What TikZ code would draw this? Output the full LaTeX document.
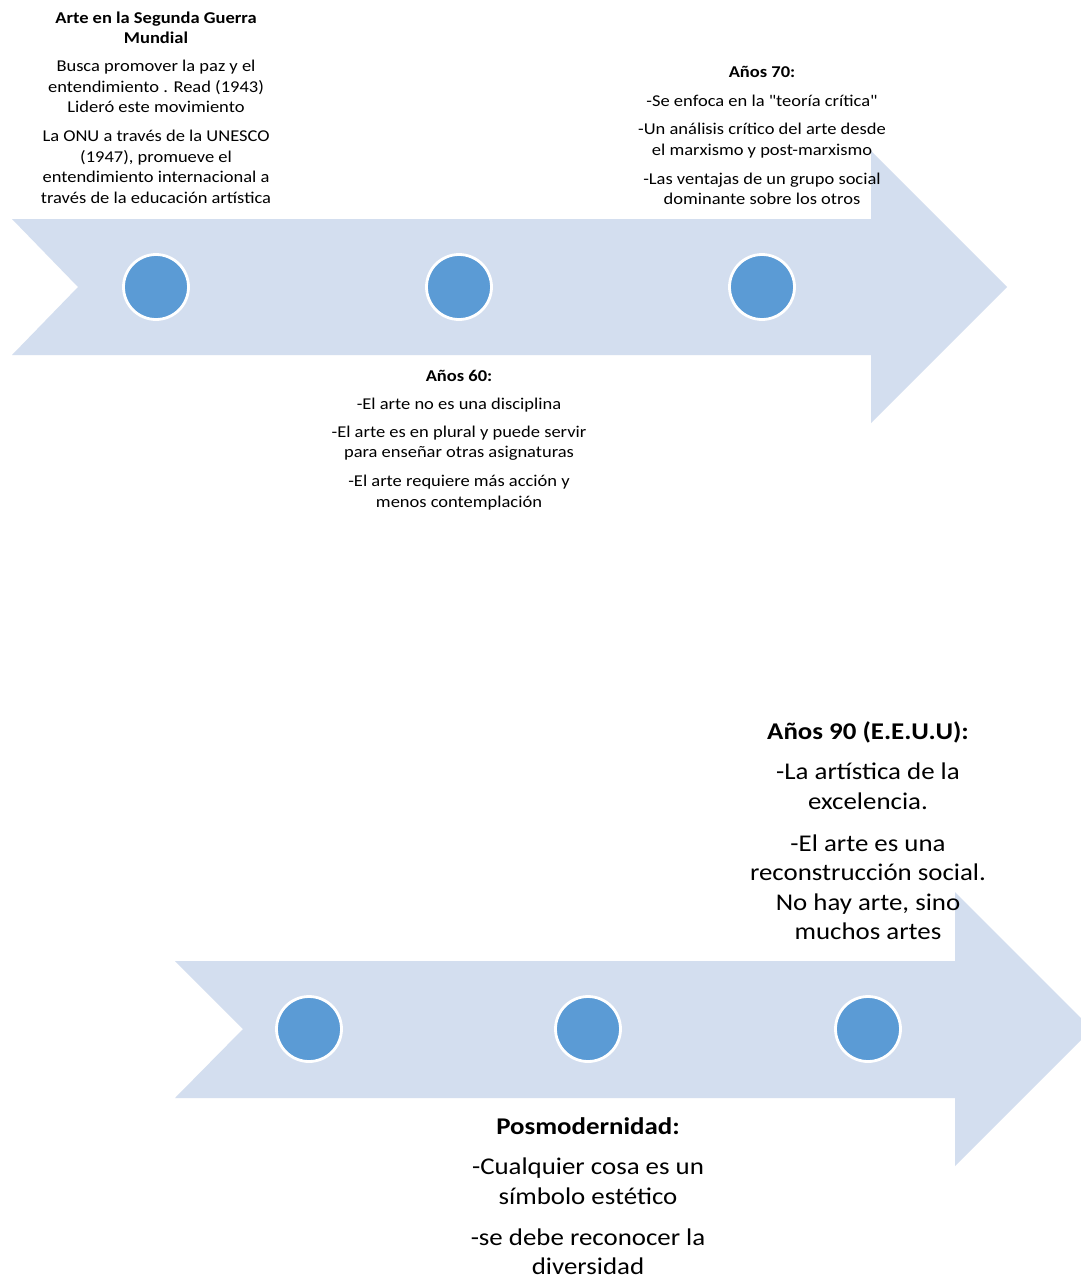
\documentclass[tikz,border=0pt]{standalone}
\usepackage{fontspec}
\setmainfont{Carlito}[FakeStretch=1.12,Ligatures=TeXOff]
\definecolor{arrowfill}{HTML}{D3DEEF}
\definecolor{dotfill}{HTML}{5B9BD5}
\begin{document}
\begin{tikzpicture}[x=1pt,y=-1pt,
  dot/.style={circle,fill=dotfill,draw=white,line width=2.8pt,minimum size=65pt,inner sep=0pt},
  small/.style={align=center,anchor=north,inner sep=0pt,text=black,font=\fontsize{16.5}{20.5}\selectfont},
  large/.style={align=center,anchor=north,inner sep=0pt,text=black,font=\fontsize{24}{29.5}\selectfont}]
\useasboundingbox[fill=white] (0,0) rectangle (1081,1278);
% top arrow
\fill[arrowfill] (12,219) -- (871,219) -- (871,151) -- (1007,287) -- (871,423) -- (871,355) -- (12,355) -- (78,287) -- cycle;
% bottom arrow
\begin{scope}
\clip (0,0) rectangle (1081,1278);
\fill[arrowfill] (175,961) -- (955,961) -- (955,892) -- (1092,1029) -- (955,1166) -- (955,1098) -- (175,1098) -- (243,1029) -- cycle;
\end{scope}
% dots
\node[dot] (d1) at (156,287) {};
\node[dot] (d2) at (459,287) {};
\node[dot] (d3) at (762,287) {};
\node[dot] (d4) at (309,1029) {};
\node[dot] (d5) at (588,1029) {};
\node[dot] (d6) at (868,1029) {};
% texts
\node[small] (t1) at (156,8.7) {\strut\textbf{Arte en la Segunda Guerra}\\\textbf{Mundial}\\[7.5pt]
Busca promover la paz y el\\entendimiento . Read (1943)\\Lideró este movimiento\\[8.5pt]
La ONU a través de la UNESCO\\(1947), promueve el\\entendimiento internacional a\\través de la educación artística};
\node[small] (t3) at (762,62.7) {\strut\textbf{Años 70:}\\[8.5pt]
-Se enfoca en la "teoría crítica"\\[8pt]
-Un análisis crítico del arte desde\\el marxismo y post-marxismo\\[8.5pt]
-Las ventajas de un grupo social\\dominante sobre los otros};
\node[small] (t2) at (459,366.7) {\strut\textbf{Años 60:}\\[7.5pt]
-El arte no es una disciplina\\[7.5pt]
-El arte es en plural y puede servir\\para enseñar otras asignaturas\\[8.5pt]
-El arte requiere más acción y\\menos contemplación};
\node[large] (t6) at (868,718.9) {\strut\textbf{Años 90 (E.E.U.U):}\\[10.5pt]
-La artística de la\\excelencia.\\[12.5pt]
-El arte es una\\reconstrucción social.\\No hay arte, sino\\muchos artes};
\node[large] (t5) at (588,1113.9) {\strut\textbf{Posmodernidad:}\\[10.5pt]
-Cualquier cosa es un\\símbolo estético\\[11.5pt]
-se debe reconocer la\\diversidad};
\end{tikzpicture}
\end{document}
